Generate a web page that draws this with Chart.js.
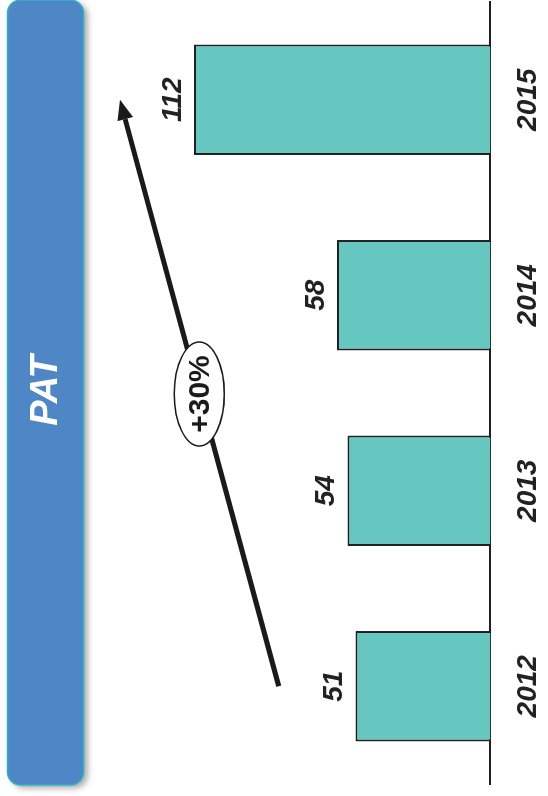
<!DOCTYPE html>
<html>
<head>
<meta charset="utf-8">
<script src="https://cdn.jsdelivr.net/npm/chart.js@4"></script>
<style>
  html, body { margin: 0; padding: 0; background: #ffffff; width: 548px; height: 796px; overflow: hidden; }
  #wrap { position: absolute; left: 0; top: 0; width: 796px; height: 566px;
          transform-origin: 0 0; transform: translateY(796px) rotate(-90deg); }
</style>
</head>
<body>
<div id="wrap"><canvas id="c" width="796" height="566"></canvas></div>
<script>
// ---- data ----
const categories = ['2012', '2013', '2014', '2015'];
const patValues = [51, 54, 58, 112];
const chartTitle = 'PAT';
const trendLabel = '+30%';
const trendArrowValues = [80, 140]; // arrow start (first category) and end (last category)

const FONT = '"Liberation Sans", Arial, sans-serif';

const bannerPlugin = {
  id: 'banner',
  beforeDraw(chart) {
    const ctx = chart.ctx;
    const x0 = 11, x1 = 796, y0 = 7.5, y1 = 83.5, r = 13;
    ctx.save();
    ctx.beginPath();
    ctx.roundRect(x0, y0, x1 - x0, y1 - y0, r);
    ctx.shadowColor = 'rgba(0,0,0,0.35)';
    ctx.shadowBlur = 6;
    ctx.shadowOffsetX = -3;
    ctx.shadowOffsetY = 4;
    ctx.fillStyle = '#4F86C6';
    ctx.fill();
    ctx.shadowColor = 'transparent';
    ctx.lineWidth = 1.5;
    ctx.strokeStyle = '#2FB2C6';
    ctx.stroke();
    ctx.fillStyle = '#ffffff';
    ctx.font = 'italic bold 38px ' + FONT;
    ctx.textAlign = 'center';
    ctx.textBaseline = 'middle';
    ctx.fillText(chartTitle, (x0 + x1) / 2 + 2, (y0 + y1) / 2 + 1);
    ctx.restore();
  }
};

const annotPlugin = {
  id: 'annot',
  afterDatasetsDraw(chart) {
    const ctx = chart.ctx;
    const xs = chart.scales.x, ys = chart.scales.y;
    const meta = chart.getDatasetMeta(0);
    ctx.save();
    // value labels
    ctx.fillStyle = '#222222';
    ctx.font = 'italic bold 28px ' + FONT;
    ctx.textAlign = 'center';
    ctx.textBaseline = 'middle';
    meta.data.forEach((bar, i) => {
      ctx.fillText(String(patValues[i]), bar.x, bar.y - 21);
    });
    // trend arrow
    const n = categories.length;
    const ax0 = xs.getPixelForValue(0), ay0 = ys.getPixelForValue(trendArrowValues[0]);
    const ax1 = xs.getPixelForValue(n - 1), ay1 = ys.getPixelForValue(trendArrowValues[1]);
    const ang = Math.atan2(ay1 - ay0, ax1 - ax0);
    const headLen = 20, headW = 8;
    const bx = ax1 - headLen * Math.cos(ang), by = ay1 - headLen * Math.sin(ang);
    ctx.strokeStyle = '#1a1a1a';
    ctx.fillStyle = '#1a1a1a';
    ctx.lineWidth = 5;
    ctx.beginPath();
    ctx.moveTo(ax0, ay0);
    ctx.lineTo(bx, by);
    ctx.stroke();
    ctx.beginPath();
    ctx.moveTo(ax1, ay1);
    ctx.lineTo(bx + headW * Math.sin(ang), by - headW * Math.cos(ang));
    ctx.lineTo(bx - headW * Math.sin(ang), by + headW * Math.cos(ang));
    ctx.closePath();
    ctx.fill();
    // ellipse with label at arrow midpoint
    const mx = (ax0 + ax1) / 2 - 1, my = (ay0 + ay1) / 2;
    ctx.beginPath();
    ctx.ellipse(mx, my, 52, 25, 0, 0, Math.PI * 2);
    ctx.fillStyle = '#ffffff';
    ctx.fill();
    ctx.lineWidth = 1.5;
    ctx.strokeStyle = '#1a1a1a';
    ctx.stroke();
    ctx.fillStyle = '#1a1a1a';
    ctx.font = 'bold 30px ' + FONT;
    ctx.textAlign = 'center';
    ctx.textBaseline = 'middle';
    ctx.fillText(trendLabel, mx, my + 1);
    ctx.restore();
  }
};

new Chart(document.getElementById('c'), {
  type: 'bar',
  data: {
    labels: categories,
    datasets: [{
      data: patValues,
      backgroundColor: '#66C6C0',
      borderColor: '#231F20',
      borderWidth: 2,
      categoryPercentage: 1.0,
      barPercentage: 0.565
    }]
  },
  options: {
    responsive: false,
    animation: false,
    devicePixelRatio: 1,
    layout: { padding: { left: 12, right: 2, top: 93.5, bottom: 0 } },
    plugins: { legend: { display: false }, tooltip: { enabled: false }, title: { display: false } },
    scales: {
      x: {
        grid: { display: false, drawTicks: false },
        border: { display: true, color: '#231F20', width: 2 },
        ticks: { color: '#222222', padding: 21, font: { family: FONT, size: 28, style: 'italic', weight: 'bold' } }
      },
      y: {
        display: false,
        min: 0,
        max: 150
      }
    }
  },
  plugins: [bannerPlugin, annotPlugin]
});
</script>
</body>
</html>
